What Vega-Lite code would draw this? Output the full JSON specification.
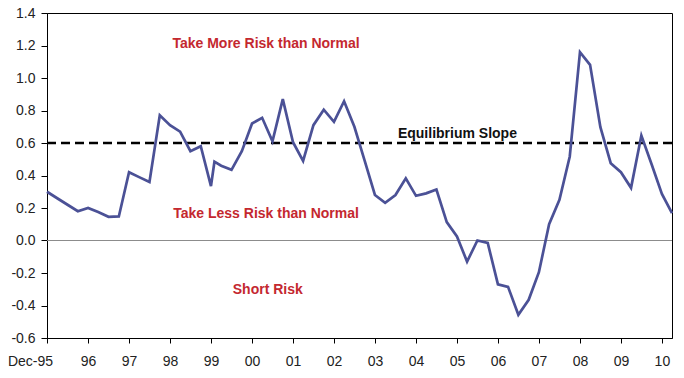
{
  "$schema": "https://vega.github.io/schema/vega-lite/v6.json",
  "autosize": "none",
  "width": 625,
  "height": 325,
  "padding": {"left": 47, "top": 13, "right": 12, "bottom": 40},
  "background": "white",
  "config": {
    "view": {"stroke": "#000000", "strokeWidth": 1},
    "font": "Liberation Sans",
    "axis": {
      "grid": false,
      "domainColor": "#000000",
      "tickColor": "#000000",
      "labelColor": "#222222",
      "labelFont": "Liberation Sans",
      "labelFontSize": 14,
      "title": null
    },
    "axisY": {"labelOverlap": false, "tickCount": 11}
  },
  "datasets": {
    "slope": [
      {"date": "1995-12-01", "value": 0.30},
      {"date": "1996-03-01", "value": 0.26},
      {"date": "1996-06-01", "value": 0.22},
      {"date": "1996-09-01", "value": 0.18},
      {"date": "1996-12-01", "value": 0.20},
      {"date": "1997-03-01", "value": 0.175},
      {"date": "1997-06-01", "value": 0.146},
      {"date": "1997-09-01", "value": 0.148},
      {"date": "1997-12-01", "value": 0.42},
      {"date": "1998-03-01", "value": 0.39},
      {"date": "1998-06-01", "value": 0.36},
      {"date": "1998-09-01", "value": 0.77},
      {"date": "1998-12-01", "value": 0.71},
      {"date": "1999-03-01", "value": 0.67},
      {"date": "1999-06-01", "value": 0.55},
      {"date": "1999-09-01", "value": 0.58},
      {"date": "1999-12-01", "value": 0.335},
      {"date": "2000-01-01", "value": 0.485},
      {"date": "2000-03-01", "value": 0.46},
      {"date": "2000-06-01", "value": 0.435},
      {"date": "2000-09-01", "value": 0.55},
      {"date": "2000-12-01", "value": 0.72},
      {"date": "2001-03-01", "value": 0.755},
      {"date": "2001-06-01", "value": 0.61},
      {"date": "2001-09-01", "value": 0.87},
      {"date": "2001-12-01", "value": 0.605},
      {"date": "2002-03-01", "value": 0.49},
      {"date": "2002-06-01", "value": 0.71},
      {"date": "2002-09-01", "value": 0.805},
      {"date": "2002-12-01", "value": 0.73},
      {"date": "2003-03-01", "value": 0.857},
      {"date": "2003-06-01", "value": 0.70},
      {"date": "2003-09-01", "value": 0.49},
      {"date": "2003-12-01", "value": 0.28},
      {"date": "2004-03-01", "value": 0.232},
      {"date": "2004-06-01", "value": 0.28},
      {"date": "2004-09-01", "value": 0.383},
      {"date": "2004-12-01", "value": 0.275},
      {"date": "2005-03-01", "value": 0.29},
      {"date": "2005-06-01", "value": 0.314},
      {"date": "2005-09-01", "value": 0.113},
      {"date": "2005-12-01", "value": 0.025},
      {"date": "2006-03-01", "value": -0.13},
      {"date": "2006-06-01", "value": 0.0},
      {"date": "2006-09-01", "value": -0.015},
      {"date": "2006-12-01", "value": -0.27},
      {"date": "2007-03-01", "value": -0.285},
      {"date": "2007-06-01", "value": -0.457},
      {"date": "2007-09-01", "value": -0.365},
      {"date": "2007-12-01", "value": -0.195},
      {"date": "2008-03-01", "value": 0.10},
      {"date": "2008-06-01", "value": 0.25},
      {"date": "2008-09-01", "value": 0.517},
      {"date": "2008-12-01", "value": 1.159},
      {"date": "2009-03-01", "value": 1.081},
      {"date": "2009-06-01", "value": 0.697},
      {"date": "2009-09-01", "value": 0.476},
      {"date": "2009-12-01", "value": 0.42},
      {"date": "2010-03-01", "value": 0.324},
      {"date": "2010-06-01", "value": 0.646},
      {"date": "2010-09-01", "value": 0.468},
      {"date": "2010-12-01", "value": 0.287},
      {"date": "2011-03-01", "value": 0.168}
    ],
    "zones": [
      {"label": "Take More Risk than Normal", "date": "2001-04-05", "value": 1.21},
      {"label": "Take Less Risk than Normal", "date": "2001-04-05", "value": 0.164},
      {"label": "Short Risk", "date": "2001-04-20", "value": -0.303}
    ],
    "equilibrium": [
      {"label": "Equilibrium Slope", "date": "2005-12-05", "value": 0.656}
    ]
  },
  "layer": [
    {
      "data": {"values": [{"level": 0}]},
      "mark": {"type": "rule", "color": "#8c8c8c", "strokeWidth": 1.2},
      "encoding": {
        "y": {
          "field": "level",
          "type": "quantitative",
          "scale": {"domain": [-0.6, 1.4], "nice": false, "zero": false},
          "axis": {
            "values": [-0.6, -0.4, -0.2, 0, 0.2, 0.4, 0.6, 0.8, 1.0, 1.2, 1.4],
            "labelExpr": "replace(format(datum.value, '.1f'), '\u2212', '-')",
            "labelOverlap": false,
            "labelFlush": false,
            "labelBound": false,
            "tickCount": 11,
            "tickSize": 6,
            "labelPadding": 6
          }
        }
      }
    },
    {
      "data": {"values": [{"level": 0.6}]},
      "mark": {"type": "rule", "color": "#000000", "strokeWidth": 2.4, "strokeDash": [9, 5]},
      "encoding": {
        "y": {"field": "level", "type": "quantitative"}
      }
    },
    {
      "data": {"name": "slope"},
      "mark": {"type": "line", "color": "#4b5196", "strokeWidth": 2.7, "strokeJoin": "miter"},
      "encoding": {
        "x": {
          "field": "date",
          "type": "temporal",
          "scale": {
            "type": "utc",
            "domain": [
              {"year": 1995, "month": 12, "date": 1, "utc": true},
              {"year": 2011, "month": 3, "date": 1, "utc": true}
            ]
          },
          "axis": {
            "values": [
              {"year": 1995, "month": 12, "date": 1, "utc": true},
              {"year": 1996, "month": 12, "date": 1, "utc": true},
              {"year": 1997, "month": 12, "date": 1, "utc": true},
              {"year": 1998, "month": 12, "date": 1, "utc": true},
              {"year": 1999, "month": 12, "date": 1, "utc": true},
              {"year": 2000, "month": 12, "date": 1, "utc": true},
              {"year": 2001, "month": 12, "date": 1, "utc": true},
              {"year": 2002, "month": 12, "date": 1, "utc": true},
              {"year": 2003, "month": 12, "date": 1, "utc": true},
              {"year": 2004, "month": 12, "date": 1, "utc": true},
              {"year": 2005, "month": 12, "date": 1, "utc": true},
              {"year": 2006, "month": 12, "date": 1, "utc": true},
              {"year": 2007, "month": 12, "date": 1, "utc": true},
              {"year": 2008, "month": 12, "date": 1, "utc": true},
              {"year": 2009, "month": 12, "date": 1, "utc": true},
              {"year": 2010, "month": 12, "date": 1, "utc": true}
            ],
            "labelExpr": "utcyear(datum.value) == 1995 ? 'Dec-95' : utcFormat(datum.value, '%y')",
            "labelOffset": {"condition": {"test": "utcyear(datum.value) == 1995", "value": -17}, "value": 0},
            "tickSize": 5,
            "labelPadding": 11,
            "labelFlush": false,
            "labelOverlap": false
          }
        },
        "y": {"field": "value", "type": "quantitative"}
      }
    },
    {
      "data": {"name": "zones"},
      "mark": {"type": "text", "color": "#c4282f", "fontWeight": "bold", "fontSize": 14, "align": "center", "baseline": "middle", "font": "Liberation Sans"},
      "encoding": {
        "x": {"field": "date", "type": "temporal"},
        "y": {"field": "value", "type": "quantitative"},
        "text": {"field": "label"}
      }
    },
    {
      "data": {"name": "equilibrium"},
      "mark": {"type": "text", "color": "#111111", "fontWeight": "bold", "fontSize": 14, "align": "center", "baseline": "middle", "font": "Liberation Sans"},
      "encoding": {
        "x": {"field": "date", "type": "temporal"},
        "y": {"field": "value", "type": "quantitative"},
        "text": {"field": "label"}
      }
    }
  ]
}
